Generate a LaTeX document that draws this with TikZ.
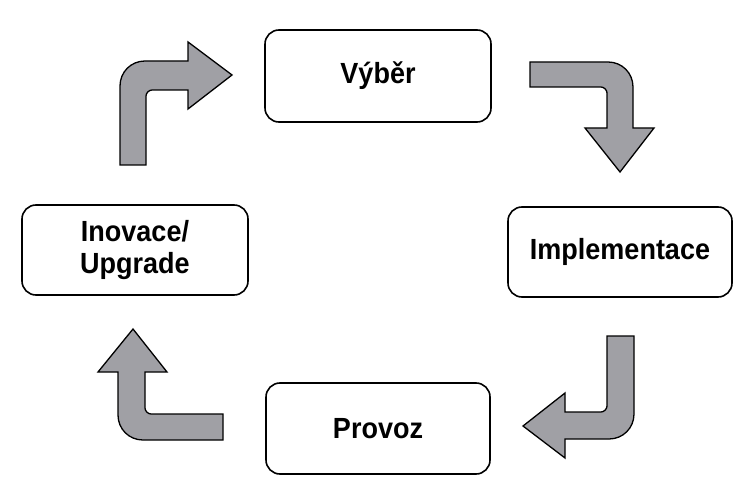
\documentclass[tikz,border=0pt]{standalone}
\usepackage{fontspec}
\setmainfont{Liberation Sans}
\usepackage{graphicx}
\definecolor{arrowgray}{RGB}{160,160,165}
\newcommand\vstr[1]{\scalebox{1}[1.08]{#1}}
\begin{document}
\begin{tikzpicture}[x=1pt,y=-1pt,
  box/.style={draw, line width=1.6pt, rounded corners=14pt, fill=white,
    align=center, inner sep=0pt,
    font=\fontsize{27}{32}\selectfont\bfseries},
  blockarrow/.style={draw=black, line width=1.3pt, fill=arrowgray, line join=miter}]
\useasboundingbox[fill=white] (0,0) rectangle (738,486);
\node[box, minimum width=226pt, minimum height=92pt] (vyber) at (378,76) {\vstr{Výběr}};
\node[box, minimum width=224pt, minimum height=90pt] (impl) at (620,252) {\vstr{Implementace}};
\node[box, minimum width=224pt, minimum height=91pt] (provoz) at (378,428.5) {\vstr{Provoz}};
\node[box, minimum width=226pt, minimum height=90pt] (inov) at (135,250) {\vstr{Inovace/}\\\vstr{Upgrade}};
% arrow: Inovace -> Vyber
\draw[blockarrow] (120,165) -- (120,86) .. controls (120,72) and (131,61) .. (145,61)
  -- (188,61) -- (188,42) -- (232,75) -- (188,109) -- (188,90) -- (152,90)
  .. controls (149,90) and (146,93) .. (146,96) -- (146,165) -- cycle;
% arrow: Vyber -> Implementace
\draw[blockarrow] (530,62) -- (608,62) .. controls (622,62) and (633,73) .. (633,87)
  -- (633,128) -- (654,128) -- (620,172) -- (585,128) -- (607,128) -- (607,93)
  .. controls (607,90) and (604,87) .. (601,87) -- (530,87) -- cycle;
% arrow: Implementace -> Provoz
\draw[blockarrow] (607,336) -- (634,336) -- (634,414) .. controls (634,428) and (623,439) .. (609,439)
  -- (565,439) -- (565,458) -- (523,426) -- (565,393) -- (565,412) -- (601,412)
  .. controls (604,412) and (607,409) .. (607,406) -- cycle;
% arrow: Provoz -> Inovace
\draw[blockarrow] (223,414) -- (223,440) -- (143,440) .. controls (129,440) and (118,429) .. (118,415)
  -- (118,372) -- (98,372) -- (133,329) -- (167,372) -- (145,372) -- (145,408)
  .. controls (145,411) and (148,414) .. (151,414) -- cycle;
\end{tikzpicture}
\end{document}
